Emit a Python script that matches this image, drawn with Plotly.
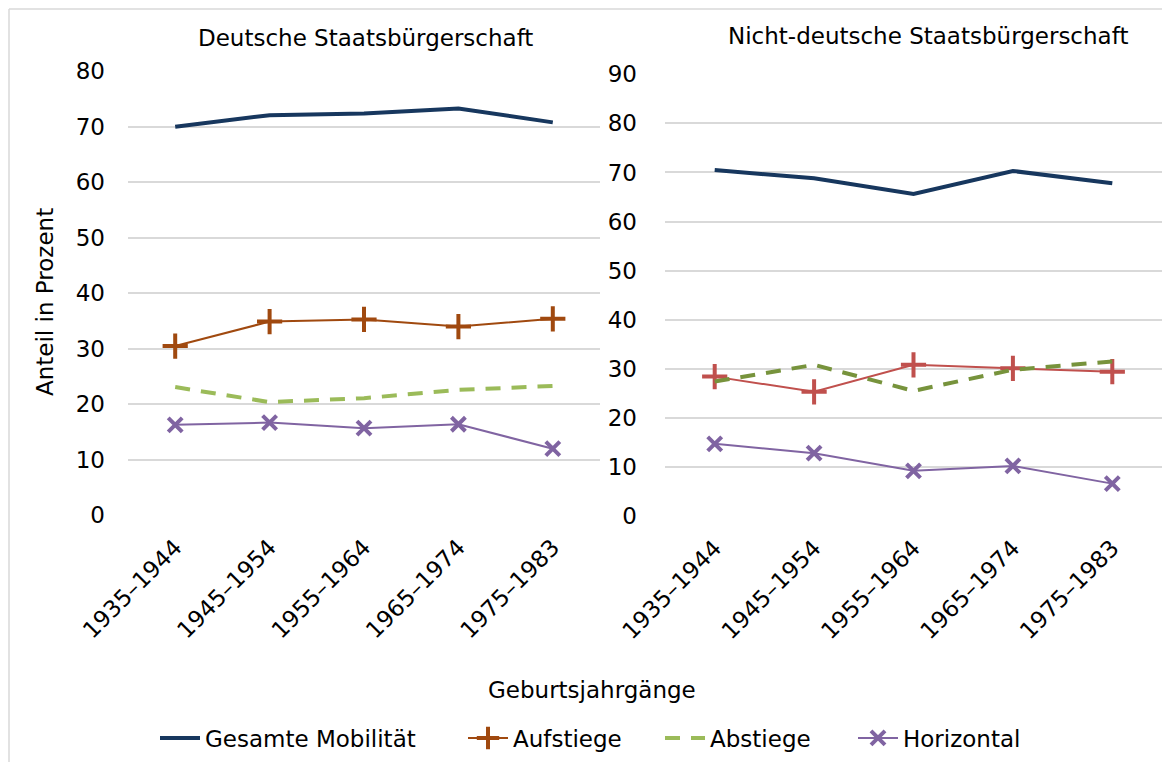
import plotly.graph_objects as go

categories = ["1935–1944", "1945–1954", "1955–1964", "1965–1974", "1975–1983"]

# Deutsche Staatsbürgerschaft
de_gesamt = [70.0, 72.1, 72.4, 73.3, 70.8]
de_auf = [30.5, 34.9, 35.3, 34.0, 35.4]
de_ab = [23.1, 20.4, 21.1, 22.6, 23.3]
de_hor = [16.3, 16.7, 15.7, 16.4, 12.0]

# Nicht-deutsche Staatsbürgerschaft
nd_gesamt = [70.5, 68.8, 65.6, 70.3, 67.8]
nd_auf = [28.4, 25.3, 30.8, 30.1, 29.4]
nd_ab = [27.4, 30.8, 25.5, 29.8, 31.5]
nd_hor = [14.7, 12.8, 9.2, 10.2, 6.6]

left_ticks = [0, 10, 20, 30, 40, 50, 60, 70, 80]
right_ticks = [0, 10, 20, 30, 40, 50, 60, 70, 80, 90]

FONT = "DejaVu Sans"
W, H = 1171, 762
OFF = 8  # page body margin

navy = "#17375E"
brown = "#A0490F"
red = "#C0504D"
lgreen = "#9BBB59"
dgreen = "#77933C"
purple = "#8064A2"


def px_x(p):
    return (p - OFF) / W


def px_y(p):
    return (H - (p - OFF)) / H


fig = go.Figure()


def add_set(xa, ya, g, a, b, h, acol, bcol, show):
    fig.add_trace(go.Scatter(x=categories, y=g, xaxis=xa, yaxis=ya, mode="lines",
                             line=dict(color=navy, width=4), name="Gesamte Mobilität",
                             showlegend=show, legend="legend"))
    fig.add_trace(go.Scatter(x=categories, y=a, xaxis=xa, yaxis=ya, mode="lines+markers",
                             line=dict(color=acol, width=2),
                             marker=dict(symbol="cross-thin", size=18,
                                         line=dict(color=acol, width=4), color=acol),
                             name="Aufstiege", showlegend=show, legend="legend2"))
    fig.add_trace(go.Scatter(x=categories, y=b, xaxis=xa, yaxis=ya, mode="lines",
                             line=dict(color=bcol, width=4, dash="15px,11px"),
                             name="Abstiege", showlegend=show, legend="legend3"))
    fig.add_trace(go.Scatter(x=categories, y=h, xaxis=xa, yaxis=ya, mode="lines+markers",
                             line=dict(color=purple, width=2),
                             marker=dict(symbol="x-thin", size=14,
                                         line=dict(color=purple, width=4), color=purple),
                             name="Horizontal", showlegend=show, legend="legend4"))


add_set("x", "y", de_gesamt, de_auf, de_ab, de_hor, brown, lgreen, True)
add_set("x2", "y2", nd_gesamt, nd_auf, nd_ab, nd_hor, red, dgreen, False)

axis_font = dict(family=FONT, size=23, color="#000000")

xcommon = dict(type="category", range=[-0.5, 4.5], tickangle=-45, showgrid=False,
               zeroline=False, showline=False, ticks="", tickfont=axis_font,
               ticklabelstandoff=13, fixedrange=True, automargin=False)


def legend_at(xpix):
    return dict(orientation="h", x=px_x(xpix), xanchor="left", y=px_y(738),
                yanchor="middle", font=dict(family=FONT, size=23), itemwidth=40,
                bgcolor="rgba(0,0,0,0)", borderwidth=0)


fig.update_layout(
    width=W, height=H, autosize=False,
    margin=dict(l=0, r=0, t=0, b=0, pad=0, autoexpand=False),
    paper_bgcolor="white", plot_bgcolor="white",
    font=dict(family=FONT, size=23, color="#000000"),
    xaxis=dict(domain=[px_x(128), px_x(600)], anchor="y", **xcommon),
    xaxis2=dict(domain=[px_x(665), px_x(1162)], anchor="y2", **xcommon),
    yaxis=dict(domain=[px_y(515.3), px_y(71.3)], range=[0, 80], tickvals=left_ticks,
               showgrid=True, gridcolor="#D9D9D9", gridwidth=1.5, zeroline=False,
               showline=False, ticks="", tickfont=axis_font, ticklabelstandoff=22,
               anchor="x", automargin=False, fixedrange=True),
    yaxis2=dict(domain=[px_y(516), px_y(74.3)], range=[0, 90], tickvals=right_ticks,
                showgrid=True, gridcolor="#D9D9D9", gridwidth=1.5, zeroline=False,
                showline=False, ticks="", tickfont=axis_font, ticklabelstandoff=27,
                anchor="x2", automargin=False, fixedrange=True),
    legend=legend_at(155),
    legend2=legend_at(463),
    legend3=legend_at(660),
    legend4=legend_at(853),
    showlegend=True,
)

annots = [
    dict(text="Deutsche Staatsbürgerschaft", x=px_x(365), y=px_y(38)),
    dict(text="Nicht-deutsche Staatsbürgerschaft", x=px_x(928), y=px_y(36)),
    dict(text="Geburtsjahrgänge", x=px_x(592), y=px_y(690)),
    dict(text="Anteil in Prozent", x=px_x(45), y=px_y(302), textangle=-90),
]
for a in annots:
    fig.add_annotation(xref="paper", yref="paper", showarrow=False,
                       xanchor="center", yanchor="middle",
                       font=dict(family=FONT, size=23, color="#000000"), **a)

# chart area border (top and left)
fig.add_shape(type="line", xref="paper", yref="paper", x0=px_x(9), x1=px_x(1162),
              y0=px_y(9), y1=px_y(9), line=dict(color="#D9D9D9", width=1.5))
fig.add_shape(type="line", xref="paper", yref="paper", x0=px_x(9), x1=px_x(9),
              y0=-0.05, y1=px_y(9), line=dict(color="#D9D9D9", width=1.5))

fig.write_html("out.html")
